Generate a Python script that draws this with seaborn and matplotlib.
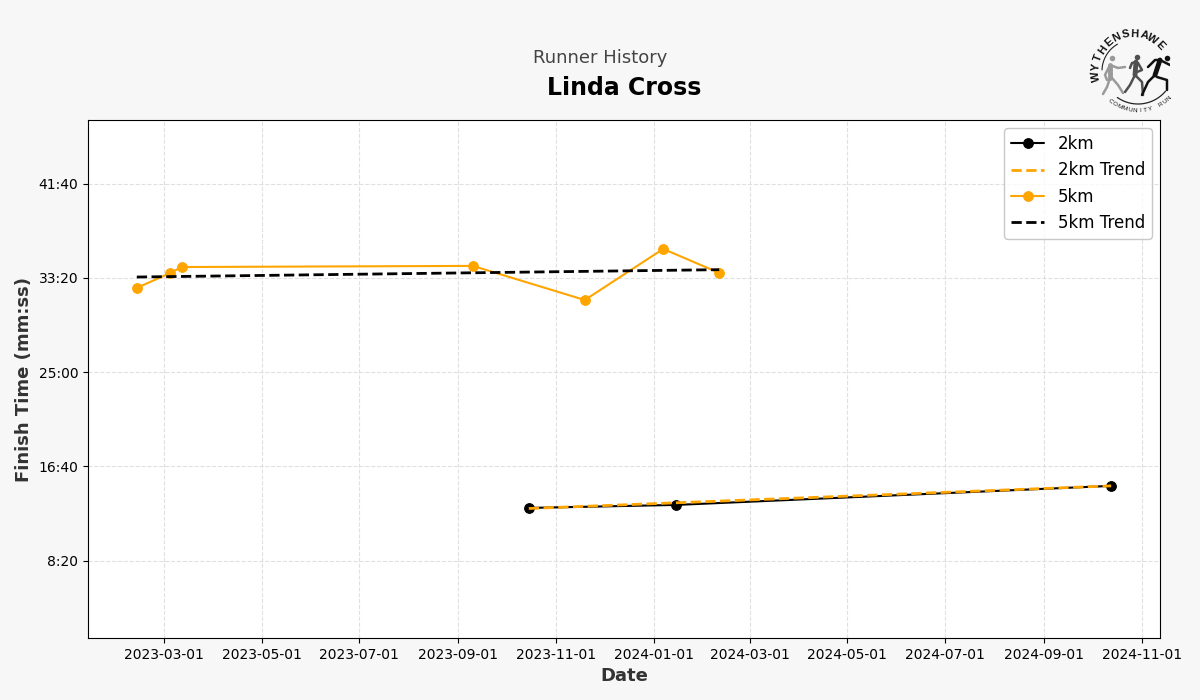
import matplotlib
matplotlib.use("Agg")
import numpy as np
import pandas as pd
import seaborn as sns
import matplotlib.pyplot as plt
import matplotlib.dates as mdates
from matplotlib.ticker import FuncFormatter, MultipleLocator

# finish times in seconds
dates_2k = ["2023-10-15", "2024-01-15", "2024-10-13"]
times_2k = [780, 796, 897]
trend_dates_2k = ["2023-10-15", "2024-10-13"]
trend_times_2k = [777, 897]

dates_5k = ["2023-02-12", "2023-03-05", "2023-03-12", "2023-09-10",
            "2023-11-19", "2024-01-07", "2024-02-11"]
times_5k = [1947, 2027, 2058, 2064, 1883, 2154, 2027]
trend_dates_5k = ["2023-02-12", "2024-02-11"]
trend_times_5k = [2005, 2044]

ORANGE = "#ffa500"
BG = "#f7f7f7"


def mmss(x, pos=None):
    return f"{int(x // 60)}:{int(x % 60):02d}"


def draw_series(ax, dates, times, color, label, trend=False):
    df = pd.DataFrame({"date": pd.to_datetime(dates), "time": times})
    if trend:
        sns.lineplot(data=df, x="date", y="time", color=color, linestyle="--",
                     linewidth=2, label=label, ax=ax, errorbar=None)
    else:
        sns.lineplot(data=df, x="date", y="time", color=color, marker="o",
                     markersize=7, markeredgecolor=color, linewidth=1.5,
                     label=label, ax=ax, errorbar=None)


def draw_logo(fig):
    # overlay in pixel coordinates for the club badge
    la = fig.add_axes([1080 / 1200, 1 - 120 / 700, 90 / 1200, 100 / 700])
    la.set_xlim(1080, 1170)
    la.set_ylim(120, 20)
    la.axis("off")
    cx, cy, r = 1133, 71, 37
    word = "WYTHENSHAWE"
    for ch, a in zip(word, np.linspace(188, 44, len(word))):
        t = np.radians(a)
        la.text(cx + r * np.cos(t), cy - r * np.sin(t), ch, fontsize=8, color="#111111",
                ha="center", va="center", rotation=a - 90, fontweight="bold",
                family="Liberation Sans")
    word = "COMMUNITY RUN"
    for ch, a in zip(word, np.linspace(230, 316, len(word))):
        t = np.radians(a)
        la.text(1138 + 43 * np.cos(t), 68 - 43 * np.sin(t), ch, fontsize=4.5, color="#111111",
                ha="center", va="center", rotation=a - 270, family="Liberation Sans")
    t = np.radians(np.linspace(120, 178, 30))
    la.plot(cx + 31 * np.cos(t), cy - 31 * np.sin(t), color="#222222", lw=0.8)
    t = np.radians(np.linspace(235, 320, 30))
    la.plot(1138 + 36 * np.cos(t), 68 - 36 * np.sin(t), color="#222222", lw=0.9)
    # three runners: head, torso, then limbs
    runners = [
        ("#9a9a9a", (1112, 58), [(1110, 65), (1110, 78)],
         [[(1110, 65), (1118, 68), (1125, 67)],
          [(1109, 67), (1105, 75), (1107, 80)],
          [(1110, 78), (1107, 87), (1103, 94)],
          [(1112, 78), (1118, 85), (1123, 93)]]),
        ("#505050", (1137, 57), [(1136, 62), (1135, 75)],
         [[(1130, 68), (1132, 63), (1136, 62)],
          [(1138, 63), (1142, 70), (1137, 72)],
          [(1135, 75), (1130, 85), (1125, 92)],
          [(1135, 75), (1142, 82), (1143, 95)]]),
        ("#111111", (1167, 58), [(1160, 60), (1155, 75)],
         [[(1148, 67), (1155, 60), (1160, 60)],
          [(1160, 60), (1170, 65)],
          [(1155, 75), (1148, 82), (1142, 95)],
          [(1157, 77), (1167, 80), (1167, 90)]]),
    ]
    for color, head, torso, limbs in runners:
        la.scatter([head[0]], [head[1]], s=16, color=color, zorder=3, linewidths=0)
        xs, ys = zip(*torso)
        la.plot(xs, ys, color=color, lw=3.5, solid_capstyle="round")
        for limb in limbs:
            xs, ys = zip(*limb)
            la.plot(xs, ys, color=color, lw=1.8, solid_capstyle="round")


if __name__ == "__main__":
    sns.set_style("white")
    plt.rcParams["font.family"] = ["DejaVu Sans"]
    plt.rcParams["text.color"] = "black"

    fig = plt.figure(figsize=(12, 7), dpi=100, facecolor=BG)
    ax = fig.add_axes([88 / 1200, 1 - 638 / 700, 1072 / 1200, 518 / 700])

    draw_series(ax, dates_2k, times_2k, "black", "2km")
    draw_series(ax, trend_dates_2k, trend_times_2k, ORANGE, "2km Trend", trend=True)
    draw_series(ax, dates_5k, times_5k, ORANGE, "5km")
    draw_series(ax, trend_dates_5k, trend_times_5k, "black", "5km Trend", trend=True)

    ax.set_xlim(pd.Timestamp("2023-01-12 12:00"), pd.Timestamp("2024-11-12 12:00"))
    ax.set_ylim(90, 2838)
    ax.xaxis.set_major_locator(mdates.MonthLocator(interval=2))
    ax.xaxis.set_major_formatter(mdates.DateFormatter("%Y-%m-%d"))
    ax.yaxis.set_major_locator(MultipleLocator(500))
    ax.yaxis.set_major_formatter(FuncFormatter(mmss))
    ax.tick_params(axis="both", which="major", labelsize=10, length=3.5, width=0.8,
                   left=True, bottom=True, colors="black")

    ax.grid(True, linestyle="--", linewidth=0.8, color="#d9d9d9", alpha=0.8)
    ax.set_axisbelow(True)
    for s in ax.spines.values():
        s.set_color("black")
        s.set_linewidth(0.8)

    ax.set_xlabel("Date", fontsize=13, fontweight="bold", color="#333333", labelpad=4)
    ax.set_ylabel("Finish Time (mm:ss)", fontsize=13, fontweight="bold", color="#333333", labelpad=4)
    ax.legend(loc="upper right", fontsize=12, frameon=True, facecolor="white",
              edgecolor="#bbbbbb", framealpha=0.8)

    fig.text(0.5, 1 - 58 / 700, "Runner History", fontsize=13, color="#444444",
             ha="center", va="center")
    fig.text(624 / 1200, 1 - 88 / 700, "Linda Cross", fontsize=17, fontweight="bold",
             color="black", ha="center", va="center")

    draw_logo(fig)
    fig.savefig("out.png", dpi=100, facecolor=BG)
